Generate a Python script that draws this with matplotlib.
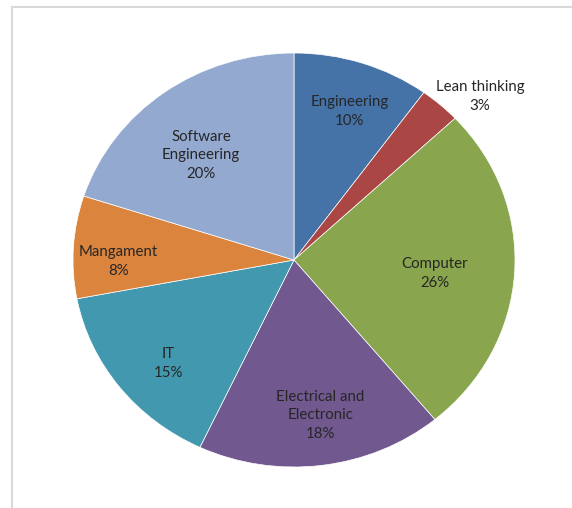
import matplotlib
matplotlib.use("Agg")
import matplotlib.pyplot as plt
from matplotlib.lines import Line2D

categories = ["Engineering", "Lean thinking", "Computer", "Electrical and\nElectronic",
              "IT", "Mangament", "Software\nEngineering"]
values = [10, 3, 26, 18, 15, 8, 20]
colors = ["#4572A7", "#AA4643", "#89A54E", "#71588F", "#4198AF", "#DB843D", "#93A9CF"]
# label positions (pie-normalized coordinates)
label_pos = [(0.253, 0.717), (0.842, 0.790), (0.636, -0.065), (0.118, -0.751),
             (-0.570, -0.500), (-0.796, -0.007), (-0.421, 0.505)]

W, H = 572, 508
fig = plt.figure(figsize=(W / 100, H / 100), dpi=100)
fig.patch.set_facecolor("white")

# chart-area border (top and left visible)
fig.add_artist(Line2D([12 / W, 1], [1 - 7 / H, 1 - 7 / H], color="#D9D9D9", lw=1.5,
                      transform=fig.transFigure))
fig.add_artist(Line2D([12 / W, 12 / W], [1 - 7 / H, 0], color="#D9D9D9", lw=1.5,
                      transform=fig.transFigure))

ax = fig.add_axes([73 / W, (H - 467) / H, 442 / W, 414 / H])
wedges, _ = ax.pie(values, colors=colors, startangle=90, counterclock=False,
                   wedgeprops=dict(edgecolor="white", linewidth=0.5))
ax.set_aspect("auto")
ax.set_xlim(-1, 1)
ax.set_ylim(-1, 1)
ax.axis("off")

total = sum(values)
for cat, v, (x, y) in zip(categories, values, label_pos):
    ax.text(x, y, f"{cat}\n{round(100 * v / total)}%", ha="center", va="center",
            fontsize=10.8, family=["Lato", "DejaVu Sans"], color="#262626",
            linespacing=1.45, clip_on=False)

fig.savefig("out.png", dpi=100)
